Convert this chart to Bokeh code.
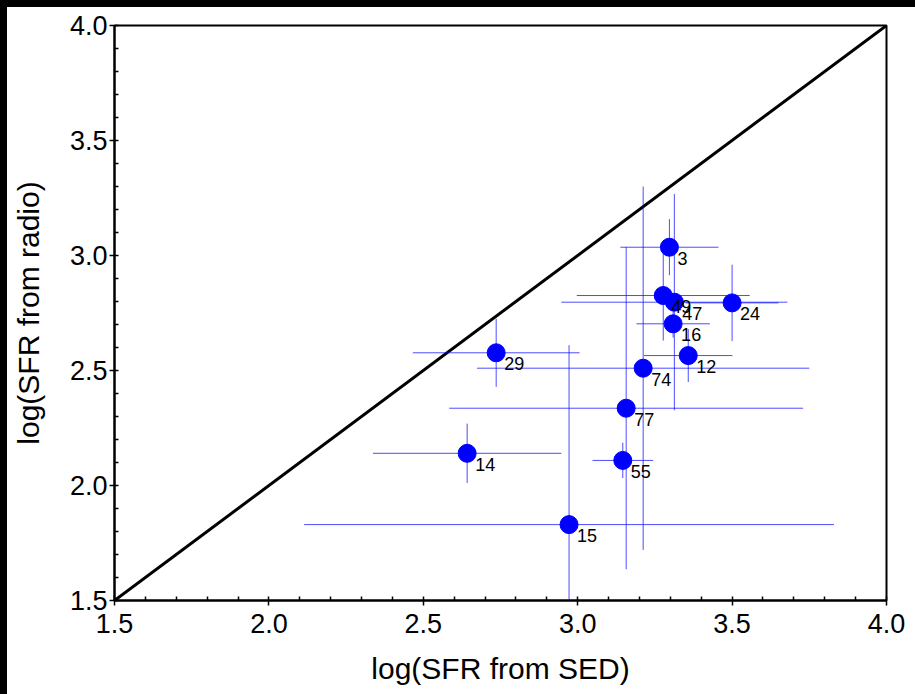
from bokeh.plotting import figure
from bokeh.models import Range1d, FixedTicker, ColumnDataSource
from bokeh.core.properties import value
from bokeh.embed import file_html
from bokeh.resources import INLINE

# ---- data ----
ids = ["3", "49", "47", "24", "16", "12", "74", "29", "77", "14", "55", "15"]
sfr_sed = [3.297, 3.277, 3.313, 3.500, 3.309, 3.358, 3.212, 2.736, 3.157, 2.642, 3.146, 2.972]
sfr_radio = [3.036, 2.826, 2.797, 2.794, 2.703, 2.565, 2.510, 2.577, 2.336, 2.140, 2.109, 1.830]
sed_err = [0.159, 0.280, 0.366, 0.150, 0.119, 0.143, 0.538, 0.270, 0.573, 0.305, 0.098, 0.858]
radio_err = [0.122, 0.196, 0.470, 0.166, 0.060, 0.115, 0.790, 0.148, 0.700, 0.129, 0.077, 0.780]

one_to_one = [1.5, 4.0]
major_ticks = [1.5, 2.0, 2.5, 3.0, 3.5, 4.0]
tick_labels = ["1.5", "2.0", "2.5", "3.0", "3.5", "4.0"]
minor_ticks = [round(1.5 + 0.1 * i, 1) for i in range(26)]

FONT = "Liberation Sans"

src = ColumnDataSource(dict(
    x=sfr_sed, y=sfr_radio, label=ids,
    x0=[a - e for a, e in zip(sfr_sed, sed_err)],
    x1=[a + e for a, e in zip(sfr_sed, sed_err)],
    y0=[a - e for a, e in zip(sfr_radio, radio_err)],
    y1=[a + e for a, e in zip(sfr_radio, radio_err)],
))

p = figure(width=915, height=694, output_backend="svg", toolbar_location=None,
           x_range=Range1d(1.5, 4.0), y_range=Range1d(1.5, 4.0),
           min_border_left=107, min_border_right=36, min_border_top=18, min_border_bottom=101,
           background_fill_color="white", border_fill_color="white",
           styles={"border-top": "7px solid black", "border-left": "7px solid black"})
p.xgrid.visible = False
p.ygrid.visible = False
p.outline_line_color = "black"
p.outline_line_width = 2

# one-to-one line
p.line(one_to_one, one_to_one, line_color="black", line_width=3)

# error bars
p.segment(x0="x0", y0="y", x1="x1", y1="y", source=src, line_color="blue", line_alpha=0.7, line_width=1)
p.segment(x0="x", y0="y0", x1="x", y1="y1", source=src, line_color="blue", line_alpha=0.7, line_width=1)

# points
p.scatter(x="x", y="y", source=src, size=18, marker="circle", fill_color="blue", line_color="blue")

# labels
p.text(x="x", y="y", text="label", source=src, x_offset=8, y_offset=11,
       text_font=value(FONT), text_font_size="18px", text_color="black",
       text_baseline="alphabetic", text_align="left")

for ax in (p.xaxis[0], p.yaxis[0]):
    ax.ticker = FixedTicker(ticks=major_ticks, minor_ticks=minor_ticks)
    ax.major_label_overrides = {t: l for t, l in zip(major_ticks, tick_labels)}
    ax.axis_line_color = "black"
    ax.axis_line_width = 2
    ax.major_tick_line_color = "black"
    ax.major_tick_line_width = 1.5
    ax.minor_tick_line_color = "black"
    ax.minor_tick_line_width = 1.5
    ax.major_tick_in = 0
    ax.major_tick_out = 5
    ax.minor_tick_in = 4
    ax.minor_tick_out = 0
    ax.major_label_text_font = FONT
    ax.major_label_text_font_size = "27px"
    ax.major_label_text_color = "black"
    ax.axis_label_text_font = FONT
    ax.axis_label_text_font_size = "30px"
    ax.axis_label_text_font_style = "normal"
    ax.axis_label_text_color = "black"

p.xaxis.axis_label = "log(SFR from SED)"
p.yaxis.axis_label = "log(SFR from radio)"
p.xaxis.major_label_standoff = 8
p.yaxis.major_label_standoff = 2
p.xaxis.axis_label_standoff = 16
p.yaxis.axis_label_standoff = 22

open("out.html", "w").write(file_html(p, INLINE))
